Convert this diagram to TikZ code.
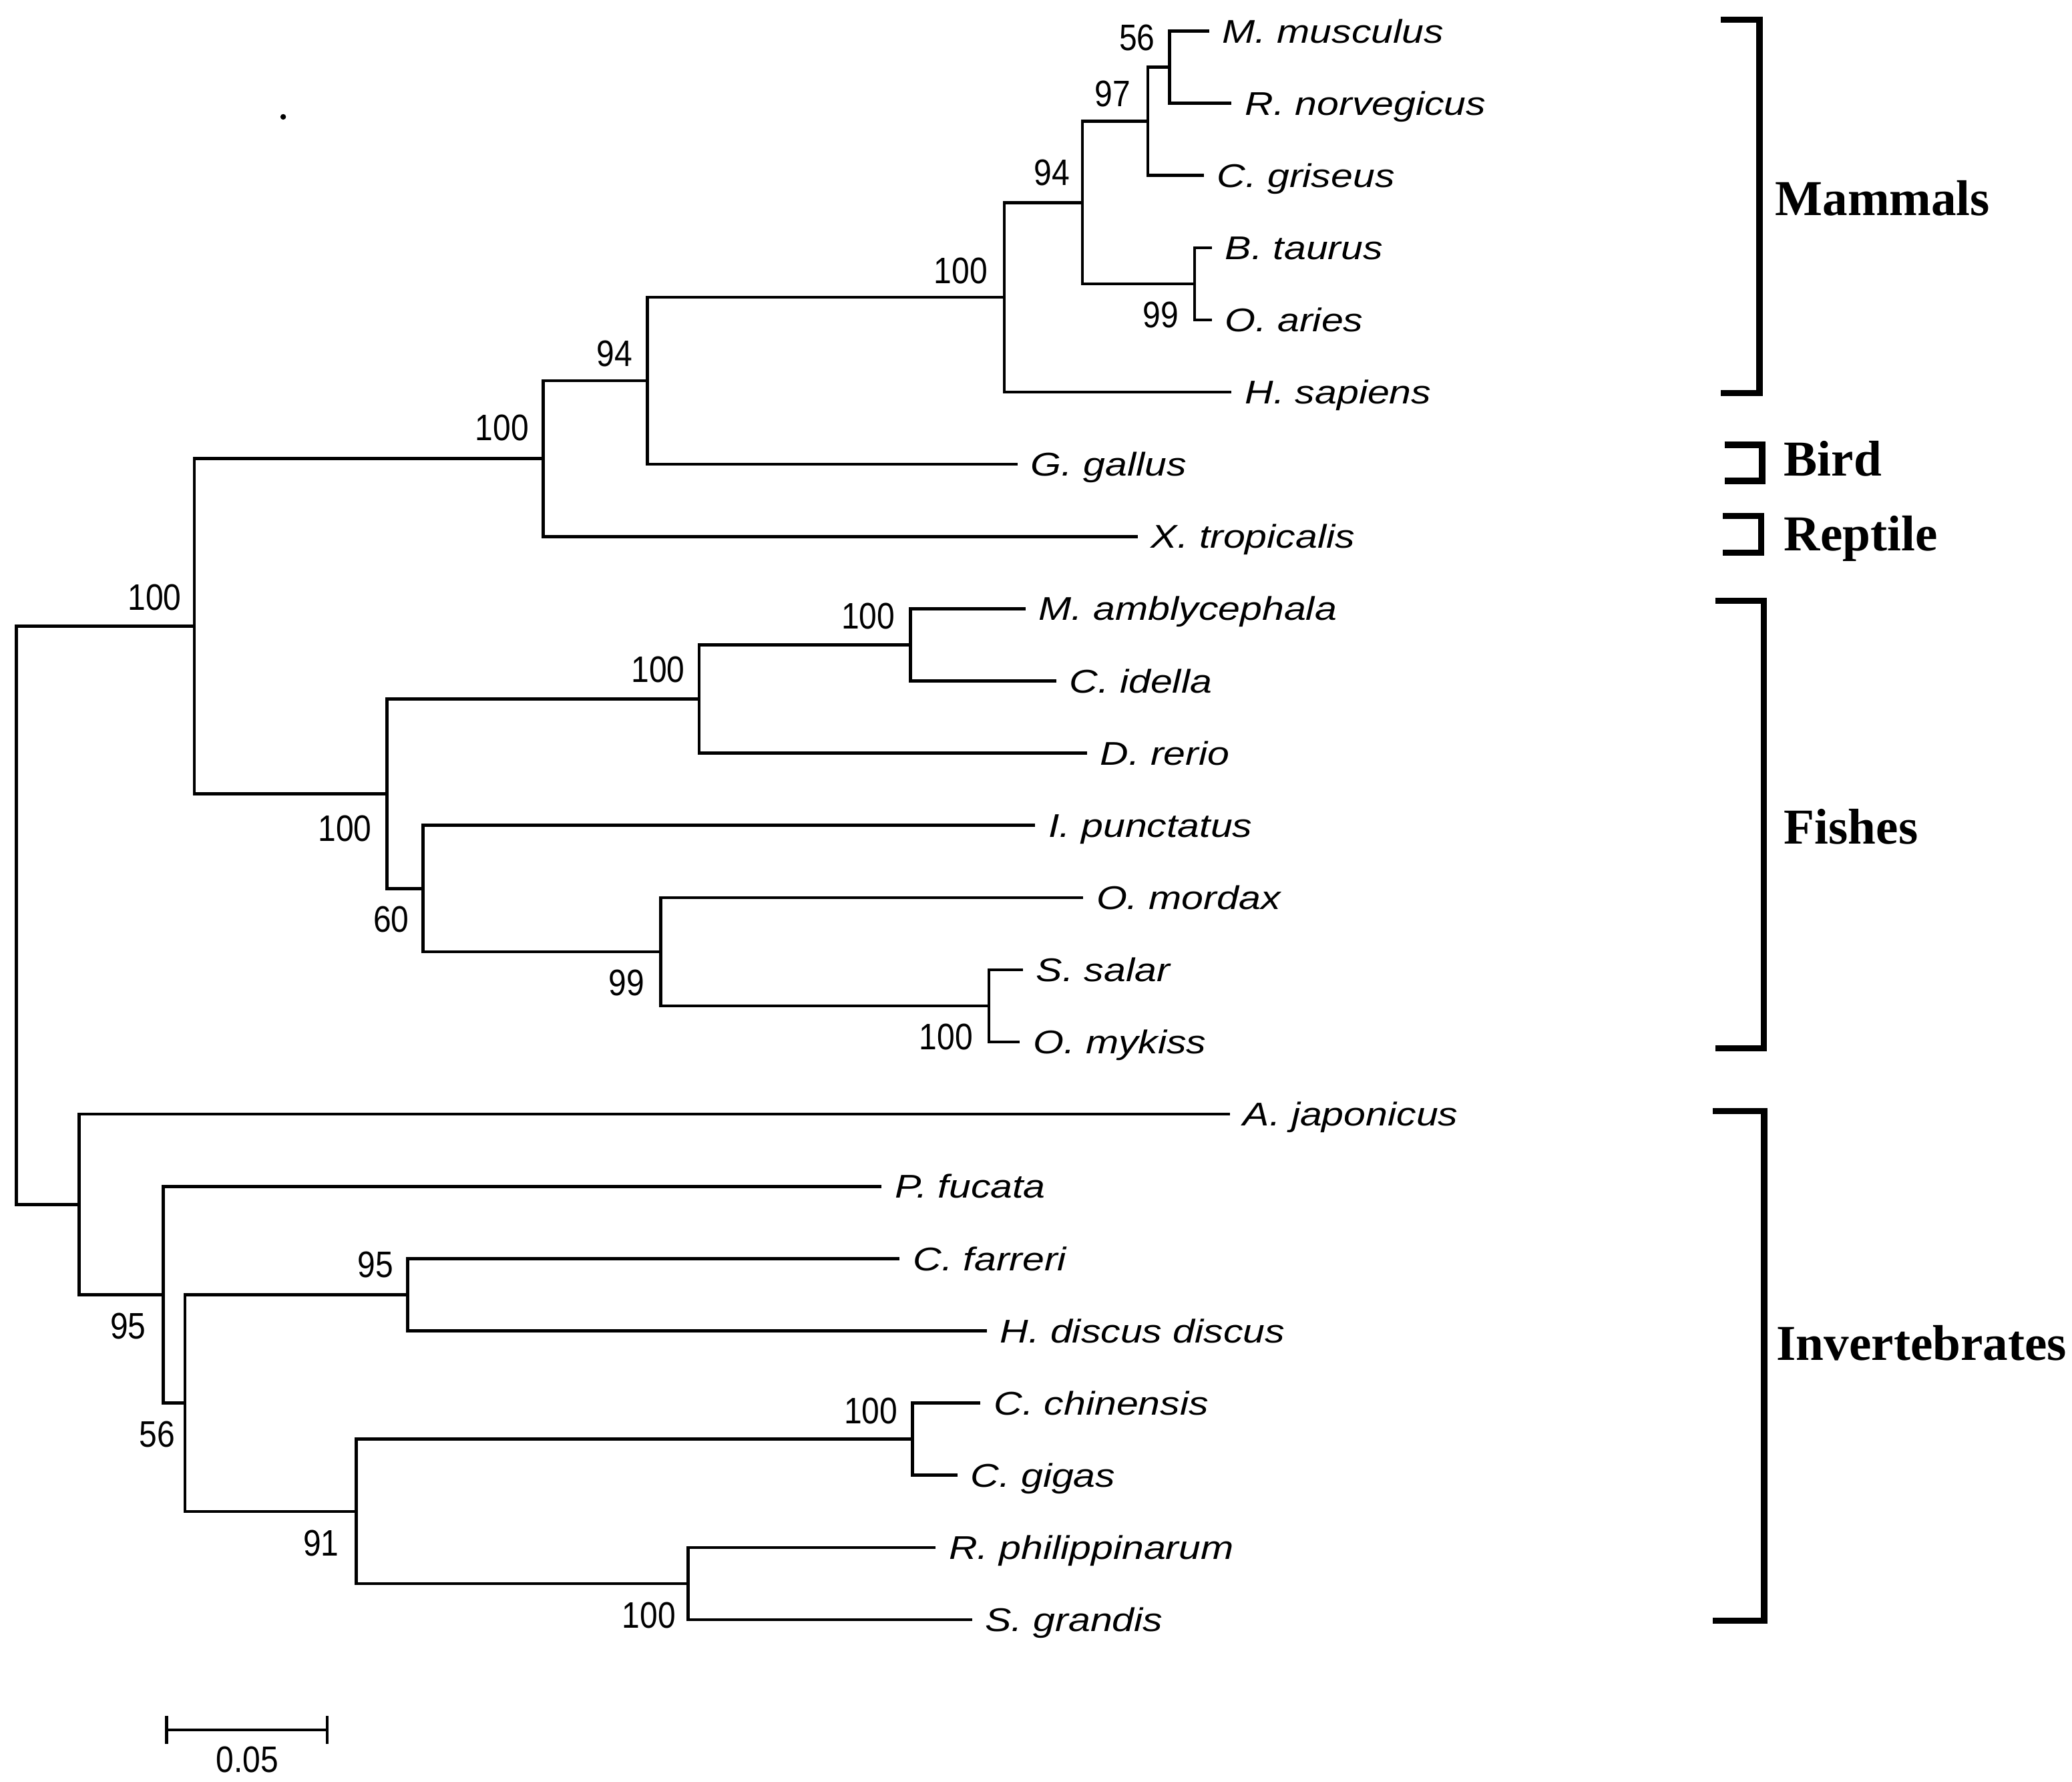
\documentclass[tikz,border=0pt]{standalone}
\usepackage{fontspec}
\newfontfamily\leaffont[FakeStretch=1.2]{Liberation Sans}
\newfontfamily\numfont[FakeStretch=0.87]{Liberation Sans}
\newfontfamily\grpfont{Liberation Serif}
\tikzset{
  branch/.style={line width=1.3pt, line join=miter},
  leaf/.style={anchor=west, inner xsep=5.5pt, inner ysep=0pt, text height=10pt, text depth=0pt,
    font=\leaffont\itshape\fontsize{14}{15}\selectfont},
  boot/.style={anchor=center, inner sep=0pt, text height=11.2pt, text depth=0pt,
    font=\numfont\fontsize{15.7}{17}\selectfont},
  grp/.style={anchor=base west, inner sep=0pt, font=\grpfont\bfseries\fontsize{21.4}{24}\selectfont},
  brk/.style={line width=2.6pt, line join=miter},
}
\begin{document}
\begin{tikzpicture}[x=0.01979cm, y=-0.01979cm]
\useasboundingbox (0,0) rectangle (1568,1348);

% leaves
\node[leaf] (mmus) at (915,23.5) {M. musculus};
\node[leaf] (rnor) at (932,78.13) {R. norvegicus};
\node[leaf] (cgri) at (911,132.76) {C. griseus};
\node[leaf] (btau) at (917,187.39) {B. taurus};
\node[leaf] (oari) at (917,242.02) {O. aries};
\node[leaf] (hsap) at (932,296.65) {H. sapiens};
\node[leaf] (ggal) at (770,351.28) {G. gallus};
\node[leaf] (xtro) at (861,405.91) {X. tropicalis};
\node[leaf] (mamb) at (776,460.54) {M. amblycephala};
\node[leaf] (cide) at (799.3,515.17) {C. idella};
\node[leaf] (drer) at (822.5,569.8) {D. rerio};
\node[leaf] (ipun) at (783.3,624.43) {I. punctatus};
\node[leaf] (omor) at (819.6,679.06) {O. mordax};
\node[leaf] (ssal) at (774,733.69) {S. salar};
\node[leaf] (omyk) at (771.8,788.32) {O. mykiss};
\node[leaf] (ajap) at (930.7,842.95) {A. japonicus};
\node[leaf] (pfuc) at (667.2,897.58) {P. fucata};
\node[leaf] (cfar) at (680.9,952.21) {C. farreri};
\node[leaf] (hdis) at (746.7,1006.84) {H. discus discus};
\node[leaf] (cchi) at (742,1061.47) {C. chinensis};
\node[leaf] (cgig) at (724.5,1116.1) {C. gigas};
\node[leaf] (rphi) at (708,1170.73) {R. philippinarum};
\node[leaf] (sgra) at (735.5,1225.36) {S. grandis};

% internal nodes
\coordinate (n56m) at (885,50.82);
\coordinate (n97) at (868.6,91.79);
\coordinate (nbt) at (904,214.7);
\coordinate (n94) at (819,153.25);
\coordinate (n100a) at (760,224.95);
\coordinate (n94b) at (490,288.12);
\coordinate (n100b) at (411,347.0);
\coordinate (nma) at (689,487.86);
\coordinate (n100c) at (529,528.83);
\coordinate (nss) at (748.4,761.0);
\coordinate (n99) at (500,720.03);
\coordinate (n60) at (320,672.23);
\coordinate (n100d) at (292.7,600.53);
\coordinate (n100e) at (147,473.77);
\coordinate (ncc) at (690.4,1088.79);
\coordinate (nrp) at (520.8,1198.05);
\coordinate (n91) at (269.5,1143.42);
\coordinate (n95) at (308.5,979.53);
\coordinate (n56i) at (140,1061.48);
\coordinate (n95b) at (123.6,979.53);
\coordinate (naj) at (60,911.24);
\coordinate (root) at (12.4,692.5);

% branches
\draw[branch] (root) |- (n100e);
\draw[branch] (root) |- (naj);
\draw[branch] (n100e) |- (n100b);
\draw[branch] (n100e) |- (n100d);
\draw[branch] (n100b) |- (n94b);
\draw[branch] (n100b) |- (xtro.west);
\draw[branch] (n94b) |- (n100a);
\draw[branch] (n94b) |- (ggal.west);
\draw[branch] (n100a) |- (n94);
\draw[branch] (n100a) |- (hsap.west);
\draw[branch] (n94) |- (n97);
\draw[branch] (n94) |- (nbt);
\draw[branch] (n97) |- (n56m);
\draw[branch] (n97) |- (cgri.west);
\draw[branch] (n56m) |- (mmus.west);
\draw[branch] (n56m) |- (rnor.west);
\draw[branch] (nbt) |- (btau.west);
\draw[branch] (nbt) |- (oari.west);
\draw[branch] (n100d) |- (n100c);
\draw[branch] (n100d) |- (n60);
\draw[branch] (n100c) |- (nma);
\draw[branch] (n100c) |- (drer.west);
\draw[branch] (nma) |- (mamb.west);
\draw[branch] (nma) |- (cide.west);
\draw[branch] (n60) |- (ipun.west);
\draw[branch] (n60) |- (n99);
\draw[branch] (n99) |- (omor.west);
\draw[branch] (n99) |- (nss);
\draw[branch] (nss) |- (ssal.west);
\draw[branch] (nss) |- (omyk.west);
\draw[branch] (naj) |- (ajap.west);
\draw[branch] (naj) |- (n95b);
\draw[branch] (n95b) |- (pfuc.west);
\draw[branch] (n95b) |- (n56i);
\draw[branch] (n56i) |- (n95);
\draw[branch] (n56i) |- (n91);
\draw[branch] (n95) |- (cfar.west);
\draw[branch] (n95) |- (hdis.west);
\draw[branch] (n91) |- (ncc);
\draw[branch] (n91) |- (nrp);
\draw[branch] (ncc) |- (cchi.west);
\draw[branch] (ncc) |- (cgig.west);
\draw[branch] (nrp) |- (rphi.west);
\draw[branch] (nrp) |- (sgra.west);

% bootstrap values
\node[boot] (b1) at (860.5,28.4) {56};
\node[boot] (b2) at (842,70.5) {97};
\node[boot] (b3) at (796,130.3) {94};
\node[boot] (b4) at (878.5,238) {99};
\node[boot] (b5) at (727,204.5) {100};
\node[boot] (b6) at (465,267) {94};
\node[boot] (b7) at (380,323.5) {100};
\node[boot] (b8) at (117,451.5) {100};
\node[boot] (b9) at (657,466) {100};
\node[boot] (b10) at (498,506) {100};
\node[boot] (b11) at (261,626.6) {100};
\node[boot] (b12) at (296,695) {60};
\node[boot] (b13) at (474,743) {99};
\node[boot] (b14) at (716,784) {100};
\node[boot] (b15) at (284,956.7) {95};
\node[boot] (b16) at (97,1003) {95};
\node[boot] (b17) at (119,1085) {56};
\node[boot] (b18) at (659,1067) {100};
\node[boot] (b19) at (243,1167) {91};
\node[boot] (b20) at (491,1221.5) {100};

% group brackets and labels
\draw[brk] (1302,15) -- (1331.5,15) -- (1331.5,297.4) -- (1302,297.4);
\draw[brk] (1305,336.5) -- (1333.5,336.5) -- (1333.5,363.8) -- (1305,363.8);
\draw[brk] (1303.6,390.4) -- (1332.6,390.4) -- (1332.6,418) -- (1303.6,418);
\draw[brk] (1298,454.3) -- (1334.8,454.3) -- (1334.8,793) -- (1298,793);
\draw[brk] (1296,840.5) -- (1335,840.5) -- (1335,1226) -- (1296,1226);
\node[grp] (gmam) at (1343,163.2) {Mammals};
\node[grp] (gbird) at (1349.7,359.8) {Bird};
\node[grp] (grep) at (1349.7,416.4) {Reptile};
\node[grp] (gfish) at (1349.7,638.2) {Fishes};
\node[grp] (ginv) at (1344.1,1029.3) {Invertebrates};

% scale bar
\coordinate (sb1) at (126,1308.7);
\coordinate (sb2) at (247.6,1308.7);
\draw[branch] (sb1) -- (sb2);
\draw[branch] ([yshift=-5.9pt]sb1) -- ([yshift=5.9pt]sb1);
\draw[branch] ([yshift=-5.9pt]sb2) -- ([yshift=5.9pt]sb2);
\node[boot] (sbl) at (187,1331) {0.05};

% stray dot
\fill (214.3,88.4) circle (1.2pt);
\end{tikzpicture}
\end{document}
